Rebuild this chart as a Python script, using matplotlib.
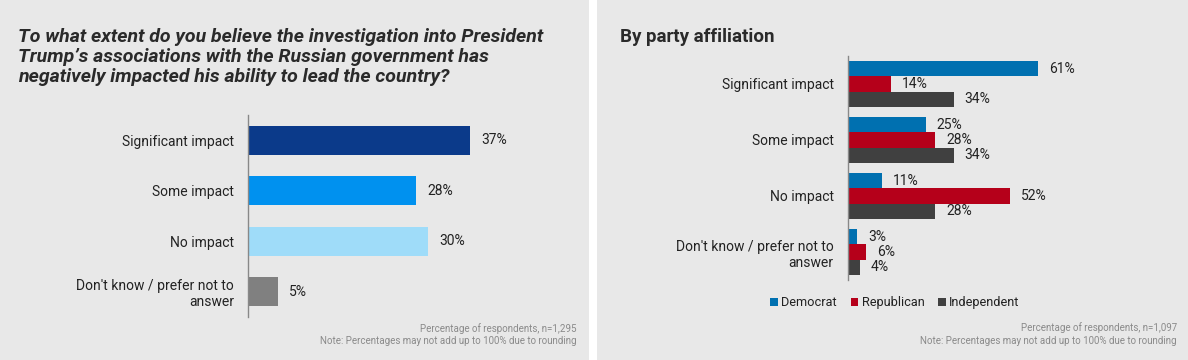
import matplotlib.pyplot as plt
from matplotlib.patches import Rectangle, Patch

plt.rcParams['font.family'] = ['Roboto', 'DejaVu Sans']

# data
categories = ['Significant impact', 'Some impact', 'No impact',
              "Don't know / prefer not to\nanswer"]
overall = [37, 28, 30, 5]
overall_colors = ['#0b3a8a', '#0091ef', '#9fdcf9', '#808080']

parties = ['Democrat', 'Republican', 'Independent']
democrat = [61, 25, 11, 3]
republican = [14, 28, 52, 6]
independent = [34, 34, 28, 4]
party_colors = ['#0070b0', '#b5001a', '#404040']

W, H = 1188, 360
fig = plt.figure(figsize=(W / 100, H / 100), dpi=100)
fig.patch.set_facecolor('white')


def px(x, y):
    return x / W, 1 - y / H


def axes_px(left, top, width, height):
    return fig.add_axes([left / W, 1 - (top + height) / H, width / W, height / H])


# gray panels
fig.patches.append(Rectangle((0, 0), 589 / W, 1, transform=fig.transFigure,
                             facecolor='#e8e8e8', edgecolor='none', zorder=-10))
fig.patches.append(Rectangle((597 / W, 0), 1 - 597 / W, 1, transform=fig.transFigure,
                             facecolor='#e8e8e8', edgecolor='none', zorder=-10))

text_col = '#222222'
note_col = '#8a8a8a'


def style_axes(ax):
    ax.set_facecolor('none')
    for s in ['top', 'right', 'bottom']:
        ax.spines[s].set_visible(False)
    ax.spines['left'].set_color('#888888')
    ax.spines['left'].set_linewidth(1)
    ax.set_xticks([])
    ax.tick_params(axis='y', length=0, pad=10, labelsize=10, labelcolor=text_col)
    ax.set_ylim(3.5, -0.5)


# ---- left chart ----
ax1 = axes_px(248, 115, 330, 202)
style_axes(ax1)
ax1.set_xlim(0, 55)
ypos = list(range(len(categories)))
ax1.barh(ypos, overall, height=0.57, color=overall_colors)
for y, v in zip(ypos, overall):
    ax1.annotate(f'{v}%', (v, y), xytext=(8, 0), textcoords='offset points',
                 va='center', ha='left', fontsize=10, color=text_col)
ax1.set_yticks(ypos)
ax1.set_yticklabels(categories, ha='right')

fig.text(*px(18, 28), "To what extent do you believe the investigation into President\n"
         "Trump\u2019s associations with the Russian government has\n"
         "negatively impacted his ability to lead the country?",
         ha='left', va='top', fontsize=14, fontweight='bold', fontstyle='italic',
         color='#2a2a2a', linespacing=1.15)
fig.text(*px(577, 329), 'Percentage of respondents, n=1,295', ha='right', va='center',
         fontsize=7, color=note_col)
fig.text(*px(577, 341), 'Note: Percentages may not add up to 100% due to rounding',
         ha='right', va='center', fontsize=7, color=note_col)

# ---- right chart ----
ax2 = axes_px(847.5, 56, 320, 224)
style_axes(ax2)
ax2.set_xlim(0, 320 / 3.12)
bh = 0.268
series = [democrat, republican, independent]
for i, (vals, col, name) in enumerate(zip(series, party_colors, parties)):
    offs = (i - 1) * bh
    ys = [y + offs for y in ypos]
    ax2.barh(ys, vals, height=bh, color=col, label=name)
    for y, v in zip(ys, vals):
        ax2.annotate(f'{v}%', (v, y), xytext=(8, 0), textcoords='offset points',
                     va='center', ha='left', fontsize=10, color=text_col)
ax2.set_yticks(ypos)
ax2.set_yticklabels(categories, ha='right')

handles = [Patch(facecolor=c, edgecolor='none', label=n) for c, n in zip(party_colors, parties)]
fig.legend(handles=handles, loc='center', bbox_to_anchor=px(895, 302.7), ncol=3,
           frameon=False, handlelength=0.6, handleheight=0.6, handletextpad=0.25,
           columnspacing=1.1, fontsize=9.2, labelcolor=text_col)

fig.text(*px(620, 28), 'By party affiliation', ha='left', va='top', fontsize=13.5,
         fontweight='bold', color='#2a2a2a')
fig.text(*px(1177, 328), 'Percentage of respondents, n=1,097', ha='right', va='center',
         fontsize=7, color=note_col)
fig.text(*px(1177, 341), 'Note: Percentages may not add up to 100% due to rounding',
         ha='right', va='center', fontsize=7, color=note_col)

fig.savefig('out.png', dpi=100)
